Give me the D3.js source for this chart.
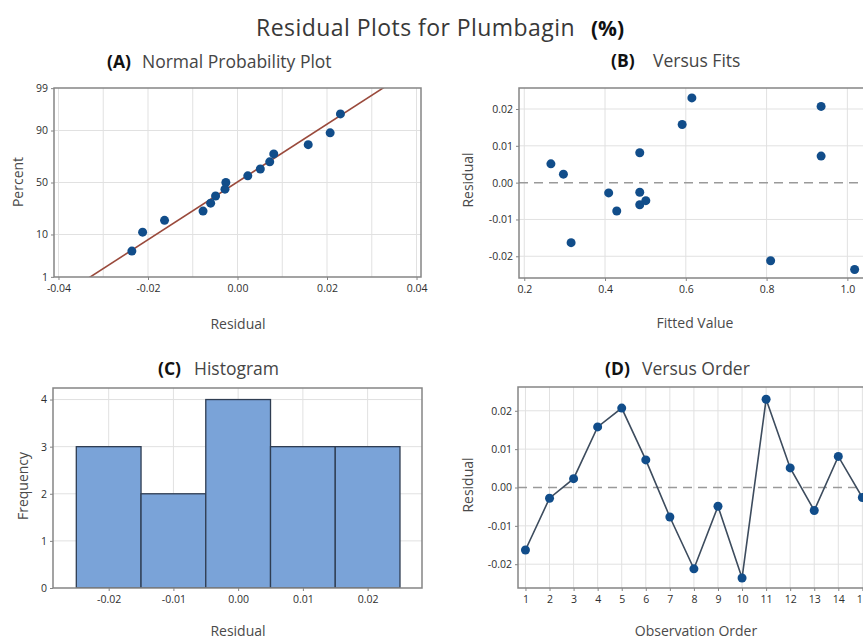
<!DOCTYPE html>
<html>
<head>
<meta charset="utf-8">
<script src="https://cdn.jsdelivr.net/npm/d3@7"></script>
<style>
  body { margin: 0; background: #fff; }
  svg { display: block; }
  text { font-family: "Open Sans", "Noto Sans", sans-serif; }
</style>
</head>
<body>
<svg id="chart" width="863" height="641"></svg>
<script>
// Residuals in observation order, with the fitted value of each run
const observationOrder = [1, 2, 3, 4, 5, 6, 7, 8, 9, 10, 11, 12, 13, 14, 15];
const residuals = [-0.0163, -0.0028, 0.0023, 0.0158, 0.0207, 0.0072, -0.0077, -0.0212,
                   -0.0049, -0.0236, 0.0230, 0.0051, -0.0060, 0.0081, -0.0026];
const fittedValues = [0.316, 0.409, 0.297, 0.591, 0.935, 0.935, 0.429, 0.810,
                      0.501, 1.018, 0.615, 0.266, 0.486, 0.486, 0.486];

// Tick labels
const percentTicks = [1, 10, 50, 90, 99];
const probResidualTicks = [-0.04, -0.02, 0.00, 0.02, 0.04];
const probGridTicks = [-0.04, -0.03, -0.02, -0.01, 0.00, 0.01, 0.02, 0.03, 0.04];
const residualTicks = [-0.02, -0.01, 0.00, 0.01, 0.02];
const fitTicks = [0.2, 0.4, 0.6, 0.8, 1.0];
const frequencyTicks = [0, 1, 2, 3, 4];
const histogramEdges = [-0.025, -0.015, -0.005, 0.005, 0.015, 0.025];

const C = {
  frame: "#858585", grid: "#e1e1e1", tick: "#2e2e2e", axisTitle: "#4a4a4a",
  point: "#114d8a", fitLine: "#9a4a3c", orderLine: "#3d4c5e",
  bar: "#7aa3d8", barEdge: "#2f3d52", zero: "#9a9a9a"
};

// Inverse of the standard normal CDF (Acklam's rational approximation)
function qnorm(p) {
  const a = [-3.969683028665376e+01, 2.209460984245205e+02, -2.759285104469687e+02,
             1.383577518672690e+02, -3.066479806614716e+01, 2.506628277459239e+00];
  const b = [-5.447609879822406e+01, 1.615858368580409e+02, -1.556989798598866e+02,
             6.680131188771972e+01, -1.328068155288572e+01];
  const c = [-7.784894002430293e-03, -3.223964580411365e-01, -2.400758277161838e+00,
             -2.549732539343734e+00, 4.374664141464968e+00, 2.938163982698783e+00];
  const d = [7.784695709041462e-03, 3.224671290700398e-01, 2.445134137142996e+00,
             3.754408661907416e+00];
  const pl = 0.02425, ph = 1 - pl;
  let q, r;
  if (p < pl) {
    q = Math.sqrt(-2 * Math.log(p));
    return (((((c[0]*q+c[1])*q+c[2])*q+c[3])*q+c[4])*q+c[5]) / ((((d[0]*q+d[1])*q+d[2])*q+d[3])*q+1);
  }
  if (p > ph) {
    q = Math.sqrt(-2 * Math.log(1 - p));
    return -(((((c[0]*q+c[1])*q+c[2])*q+c[3])*q+c[4])*q+c[5]) / ((((d[0]*q+d[1])*q+d[2])*q+d[3])*q+1);
  }
  q = p - 0.5; r = q * q;
  return (((((a[0]*r+a[1])*r+a[2])*r+a[3])*r+a[4])*r+a[5])*q / (((((b[0]*r+b[1])*r+b[2])*r+b[3])*r+b[4])*r+1);
}

const svg = d3.select("#chart");
const defs = svg.append("defs");

// Main title
svg.append("text").attr("x", 256).attr("y", 35.5)
  .attr("font-size", 23).attr("letter-spacing", 0.45).attr("fill", "#383838")
  .text("Residual Plots for Plumbagin");
svg.append("text").attr("x", 591).attr("y", 35.5)
  .attr("font-family", "'Liberation Sans', Arial, sans-serif").attr("font-weight", "bold")
  .attr("font-size", 21).attr("fill", "#111").text("(%)");

// Common panel scaffolding: frame, clip, grid, axes, titles
function makePanel(opt) {
  const { id, box, x, y, xTicks, yTicks, xGrid, yGrid, xFmt, yFmt, label, name, labelPos, namePos,
          xTitle, xTitlePos, yTitle, yTitlePos } = opt;
  const g = svg.append("g");
  defs.append("clipPath").attr("id", id).append("rect")
    .attr("x", box.l).attr("y", box.t).attr("width", box.r - box.l).attr("height", box.b - box.t);

  const grid = g.append("g").attr("clip-path", `url(#${id})`);
  grid.selectAll(".gx").data(xGrid).join("line")
    .attr("x1", d => x(d)).attr("x2", d => x(d)).attr("y1", box.t).attr("y2", box.b)
    .attr("stroke", C.grid).attr("stroke-width", 1);
  grid.selectAll(".gy").data(yGrid).join("line")
    .attr("y1", d => y(d)).attr("y2", d => y(d)).attr("x1", box.l).attr("x2", box.r)
    .attr("stroke", C.grid).attr("stroke-width", 1);

  const xa = g.append("g").attr("transform", `translate(0,${box.b})`)
    .call(d3.axisBottom(x).tickValues(xTicks).tickSize(3).tickPadding(5).tickFormat(xFmt));
  const ya = g.append("g").attr("transform", `translate(${box.l},0)`)
    .call(d3.axisLeft(y).tickValues(yTicks).tickSize(3).tickPadding(3).tickFormat(yFmt));
  [xa, ya].forEach(a => {
    a.select(".domain").remove();
    a.selectAll("line").attr("stroke", C.frame);
    a.selectAll("text").attr("font-size", 10.5).attr("fill", C.tick)
      .attr("font-family", "'Open Sans', sans-serif");
  });

  const content = g.append("g").attr("clip-path", `url(#${id})`);

  svg.append("text").attr("x", labelPos[0]).attr("y", labelPos[1]).attr("font-size", 17.5)
    .attr("font-weight", "bold").attr("fill", "#111").text(label);
  svg.append("text").attr("x", namePos[0]).attr("y", namePos[1]).attr("font-size", 17.5)
    .attr("fill", "#454545").text(name);

  svg.append("text").attr("x", xTitlePos[0]).attr("y", xTitlePos[1]).attr("text-anchor", "middle")
    .attr("font-size", 14).attr("fill", C.axisTitle).text(xTitle);
  svg.append("text").attr("transform", `translate(${yTitlePos[0]},${yTitlePos[1]}) rotate(-90)`)
    .attr("text-anchor", "middle").attr("font-size", 14).attr("fill", C.axisTitle).text(yTitle);

  return { g, content, box,
    frame() {
      g.append("rect").attr("x", box.l).attr("y", box.t).attr("width", box.r - box.l).attr("height", box.b - box.t)
        .attr("fill", "none").attr("stroke", C.frame).attr("stroke-width", 1.5);
    } };
}

const fmt2 = d => d.toFixed(2);

// ---------- (A) Normal probability plot ----------
{
  const box = { l: 54, r: 421, t: 88, b: 277 };
  const x = d3.scaleLinear().domain([-0.041, 0.041]).range([box.l, box.r]);
  const yz = d3.scaleLinear().domain([-2.33, 2.33]).range([box.b, box.t]);
  const yP = p => yz(qnorm(p / 100));
  const p = makePanel({
    id: "clipA", box, x, y: d3.scaleOrdinal().domain(percentTicks).range(percentTicks.map(v => yP(v))),
    xTicks: probResidualTicks, yTicks: percentTicks, xGrid: probGridTicks, yGrid: [],
    xFmt: fmt2, yFmt: d => d, label: "(A)", name: "Normal Probability Plot",
    labelPos: [107, 68], namePos: [142, 68],
    xTitle: "Residual", xTitlePos: [238, 329], yTitle: "Percent", yTitlePos: [23, 182]
  });
  p.content.selectAll(".gp").data(percentTicks.slice(1, -1)).join("line")
    .attr("x1", box.l).attr("x2", box.r).attr("y1", d => yP(d)).attr("y2", d => yP(d))
    .attr("stroke", C.grid);

  const n = residuals.length;
  const sorted = residuals.slice().sort(d3.ascending);
  const pts = sorted.map((r, i) => ({ r, pct: 100 * (i + 1 - 0.3) / (n + 0.4) }));
  const mean = d3.mean(residuals), sd = d3.deviation(residuals);
  const zEnds = [-2.6, 2.6];
  p.content.append("line")
    .attr("x1", x(mean + zEnds[0] * sd)).attr("y1", yz(zEnds[0]))
    .attr("x2", x(mean + zEnds[1] * sd)).attr("y2", yz(zEnds[1]))
    .attr("stroke", C.fitLine).attr("stroke-width", 1.6);
  p.content.selectAll("circle").data(pts).join("circle")
    .attr("cx", d => x(d.r)).attr("cy", d => yP(d.pct)).attr("r", 4.5).attr("fill", C.point);
  p.frame();
}

// ---------- (B) Versus fits ----------
{
  const box = { l: 519, r: 872, t: 88, b: 278 };
  const x = d3.scaleLinear().domain([0.187, 1.061]).range([box.l, box.r]);
  const y = d3.scaleLinear().domain([-0.0259, 0.0257]).range([box.b, box.t]);
  const p = makePanel({
    id: "clipB", box, x, y, xTicks: fitTicks, yTicks: residualTicks, xGrid: fitTicks,
    yGrid: residualTicks.filter(d => d !== 0), xFmt: d => d.toFixed(1), yFmt: fmt2,
    label: "(B)", name: "Versus Fits", labelPos: [611, 67], namePos: [653, 67],
    xTitle: "Fitted Value", xTitlePos: [695, 328], yTitle: "Residual", yTitlePos: [473, 180]
  });
  p.content.append("line").attr("x1", box.l).attr("x2", box.r).attr("y1", y(0)).attr("y2", y(0))
    .attr("stroke", C.zero).attr("stroke-width", 1.5).attr("stroke-dasharray", "9,6");
  p.content.selectAll("circle").data(residuals).join("circle")
    .attr("cx", (d, i) => x(fittedValues[i])).attr("cy", d => y(d)).attr("r", 4.5).attr("fill", C.point);
  p.frame();
}

// ---------- (C) Histogram ----------
{
  const box = { l: 53, r: 422, t: 388, b: 588 };
  const x = d3.scaleLinear().domain([-0.0286, 0.0284]).range([box.l, box.r]);
  const y = d3.scaleLinear().domain([0, 4.245]).range([box.b, box.t]);
  const bins = d3.bin().domain([histogramEdges[0], histogramEdges[histogramEdges.length - 1]])
    .thresholds(histogramEdges.slice(1, -1))(residuals);
  const p = makePanel({
    id: "clipC", box, x, y, xTicks: residualTicks, yTicks: frequencyTicks, xGrid: residualTicks,
    yGrid: frequencyTicks.slice(1), xFmt: fmt2, yFmt: d => d,
    label: "(C)", name: "Histogram", labelPos: [158, 375], namePos: [194, 375],
    xTitle: "Residual", xTitlePos: [238, 636], yTitle: "Frequency", yTitlePos: [28, 486]
  });
  p.content.selectAll("rect").data(bins).join("rect")
    .attr("x", d => x(d.x0)).attr("width", d => x(d.x1) - x(d.x0))
    .attr("y", d => y(d.length)).attr("height", d => y(0) - y(d.length))
    .attr("fill", C.bar).attr("stroke", C.barEdge).attr("stroke-width", 1.3);
  p.frame();
}

// ---------- (D) Versus order ----------
{
  const box = { l: 518, r: 872, t: 387, b: 588 };
  const x = d3.scaleLinear().domain([0.69, 15.4]).range([box.l, box.r]);
  const y = d3.scaleLinear().domain([-0.0262, 0.0262]).range([box.b, box.t]);
  const p = makePanel({
    id: "clipD", box, x, y, xTicks: observationOrder, yTicks: residualTicks, xGrid: observationOrder,
    yGrid: residualTicks.filter(d => d !== 0), xFmt: d => d, yFmt: fmt2,
    label: "(D)", name: "Versus Order", labelPos: [605, 375], namePos: [642, 375],
    xTitle: "Observation Order", xTitlePos: [696, 636], yTitle: "Residual", yTitlePos: [473, 485]
  });
  p.content.append("line").attr("x1", box.l).attr("x2", box.r).attr("y1", y(0)).attr("y2", y(0))
    .attr("stroke", C.zero).attr("stroke-width", 1.5).attr("stroke-dasharray", "9,6");
  const line = d3.line().x((d, i) => x(observationOrder[i])).y(d => y(d));
  p.content.append("path").datum(residuals).attr("d", line)
    .attr("fill", "none").attr("stroke", C.orderLine).attr("stroke-width", 1.6);
  p.content.selectAll("circle").data(residuals).join("circle")
    .attr("cx", (d, i) => x(observationOrder[i])).attr("cy", d => y(d)).attr("r", 4.5).attr("fill", C.point);
  p.frame();
}
</script>
</body>
</html>
